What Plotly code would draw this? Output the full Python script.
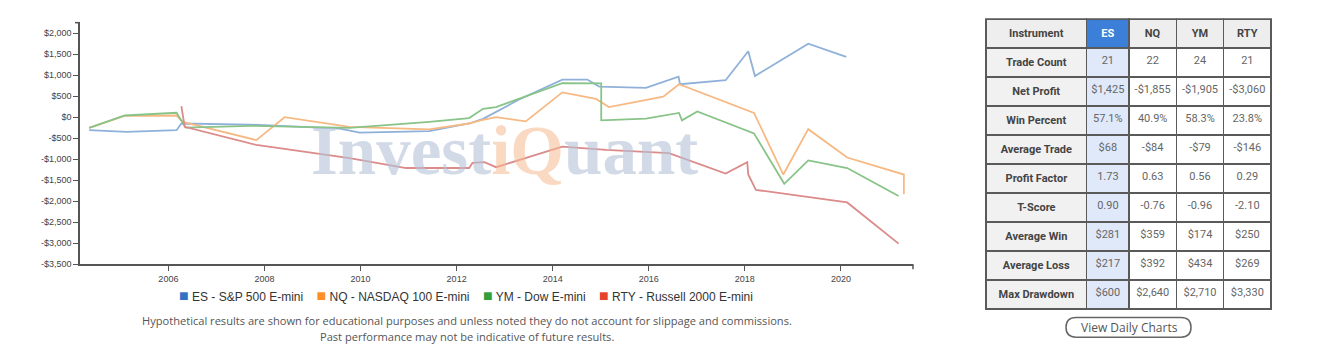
import plotly.graph_objects as go

W, H = 1334, 354

# ---------------- data ----------------
es_years = [2004.35, 2005.13, 2006.17, 2006.27, 2007.7, 2009.57, 2009.98, 2011.43, 2012.26, 2012.55, 2013.3,
            2014.2, 2014.72, 2014.97, 2015.94, 2016.62, 2016.65, 2017.6, 2018.07, 2018.21, 2019.32, 2020.11]
es_vals = [-310, -350, -310, -150, -175, -270, -365, -330, -150, -40, 420,
           895, 895, 730, 700, 965, 785, 880, 1570, 980, 1750, 1435]

nq_years = [2004.35, 2005.09, 2006.17, 2006.3, 2007.83, 2008.42, 2009.77, 2011.43, 2012.26, 2012.5, 2012.82,
            2013.44, 2014.2, 2014.9, 2015.17, 2016.30, 2016.63, 2018.19, 2018.80, 2019.32, 2020.13, 2021.31, 2021.31]
nq_vals = [-255, 30, 40, -110, -545, 0, -230, -290, -150, -75, 0,
           -100, 590, 435, 240, 490, 785, 100, -1365, -285, -960, -1365, -1835]

ym_years = [2004.35, 2005.09, 2006.17, 2006.36, 2007.7, 2009.77, 2011.43, 2012.26, 2012.55, 2012.82, 2014.2,
            2014.75, 2015.01, 2015.01, 2015.94, 2016.63, 2016.69, 2017.01, 2018.19, 2018.82, 2019.32, 2020.13, 2021.2]
ym_vals = [-255, 40, 105, -250, -205, -255, -110, -20, 200, 240, 810,
           805, 805, -75, -35, 100, -75, 135, -385, -1585, -1030, -1210, -1875]

rty_years = [2006.27, 2006.34, 2007.83, 2009.77, 2010.95, 2012.26, 2012.33, 2012.58, 2012.82, 2014.2,
             2015.11, 2016.42, 2017.6, 2018.05, 2018.07, 2018.23, 2020.13, 2021.2]
rty_vals = [260, -230, -660, -975, -1210, -1210, -1090, -1070, -1190, -700,
            -780, -855, -1340, -1070, -1365, -1730, -2030, -3010]

series_names = ["ES - S&P 500 E-mini", "NQ - NASDAQ 100 E-mini", "YM - Dow E-mini", "RTY - Russell 2000 E-mini"]
line_colors = ["#8fb1d9", "#f7b983", "#88c388", "#dc8a8a"]
legend_colors = ["#3272c4", "#ff8f22", "#2f9e3b", "#e4432d"]

y_tick_vals = [2000, 1500, 1000, 500, 0, -500, -1000, -1500, -2000, -2500, -3000, -3500]
y_tick_text = ["$2,000", "$1,500", "$1,000", "$500", "$0", "-$500", "-$1,000", "-$1,500",
               "-$2,000", "-$2,500", "-$3,000", "-$3,500"]
x_tick_vals = [2006, 2008, 2010, 2012, 2014, 2016, 2018, 2020]
x_tick_text = ["2006", "2008", "2010", "2012", "2014", "2016", "2018", "2020"]

table_header = ["Instrument", "ES", "NQ", "YM", "RTY"]
row_labels = ["Trade Count", "Net Profit", "Win Percent", "Average Trade", "Profit Factor",
              "T-Score", "Average Win", "Average Loss", "Max Drawdown"]
es_stats = ["21", "$1,425", "57.1%", "$68", "1.73", "0.90", "$281", "$217", "$600"]
nq_stats = ["22", "-$1,855", "40.9%", "-$84", "0.63", "-0.76", "$359", "$392", "$2,640"]
ym_stats = ["24", "-$1,905", "58.3%", "-$79", "0.56", "-0.96", "$174", "$434", "$2,710"]
rty_stats = ["21", "-$3,060", "23.8%", "-$146", "0.29", "-2.10", "$250", "$269", "$3,330"]

footnote_lines = ["Hypothetical results are shown for educational purposes and unless noted they do not account for slippage and commissions.",
                  "Past performance may not be indicative of future results."]


def px(x):
    return x / W


def py(y):
    return 1 - y / H


fig = go.Figure()

for xs, ys, name, col in zip([es_years, nq_years, ym_years, rty_years],
                             [es_vals, nq_vals, ym_vals, rty_vals],
                             series_names, line_colors):
    fig.add_trace(go.Scatter(x=xs, y=ys, mode="lines", name=name,
                             line=dict(color=col, width=1.8), showlegend=False,
                             xaxis="x", yaxis="y"))

# table
n = len(row_labels)
fig.add_trace(go.Table(
    domain=dict(x=[px(986), px(1271)], y=[py(318), py(19.5)]),
    columnwidth=[100, 42, 47, 47, 47],
    header=dict(
        values=["<b>%s</b>" % h for h in table_header],
        fill_color=["#eeeeee", "#3c7fd8", "#eeeeee", "#eeeeee", "#eeeeee"],
        font=dict(family="Roboto", size=11, color=["#444", "#ffffff", "#444", "#444", "#444"]),
        line=dict(color="#5a5a5a", width=1.5),
        align="center", height=28),
    cells=dict(
        values=[["<b>%s</b>" % r for r in row_labels], es_stats, nq_stats, ym_stats, rty_stats],
        fill_color=[["#f1f1f1"] * n, ["#dfe9fa"] * n, ["#ffffff"] * n, ["#ffffff"] * n, ["#ffffff"] * n],
        font=dict(family="Roboto", size=11, color=["#444", "#666", "#666", "#666", "#666"]),
        line=dict(color="#5a5a5a", width=1.5),
        align="center", height=29),
))

annotations = []
# watermark
annotations.append(dict(
    xref="paper", yref="paper", x=px(504), y=py(153), xanchor="center", yanchor="middle",
    text=('<b><span style="color:rgba(180,196,214,0.62)">Invest</span>'
          '<span style="color:rgba(246,186,146,0.55)">iQ</span>'
          '<span style="color:rgba(180,196,214,0.62)">uant</span></b>'),
    font=dict(family="Liberation Serif", size=69), showarrow=False))

# legend (as text)
leg = "&nbsp;&nbsp;&nbsp;&nbsp;".join('<span style="color:%s;font-size:16px">■</span> %s' % (c, nme)
                                      for c, nme in zip(legend_colors, series_names))
annotations.append(dict(xref="paper", yref="paper", x=px(466), y=py(300), xanchor="center", yanchor="middle",
                        text=leg, font=dict(family="Liberation Sans", size=12, color="#333"), showarrow=False))
for i, line in enumerate(footnote_lines):
    annotations.append(dict(xref="paper", yref="paper", x=px(467), y=py(325 + 16 * i), xanchor="center",
                            yanchor="middle", text=line, font=dict(family="Open Sans", size=11.1, color="#555"),
                            showarrow=False))
# button
annotations.append(dict(xref="paper", yref="paper", x=px(1129), y=py(332), xanchor="center", yanchor="middle",
                        text="View Daily Charts", font=dict(family="Open Sans", size=12, color="#555"),
                        showarrow=False))

bx0, bx1, by0, by1, r = 1066, 1191, 322, 342, 10
path = ("M {a},{b} L {c},{b} Q {d},{b} {d},{e} Q {d},{f} {c},{f} L {a},{f} Q {g},{f} {g},{e} Q {g},{b} {a},{b} Z"
        .format(a=px(bx0 + r), b=py(by0), c=px(bx1 - r), d=px(bx1), e=py((by0 + by1) / 2), f=py(by1), g=px(bx0)))
shapes = [
    dict(type="path", xref="paper", yref="paper", path=path, line=dict(color="#666", width=1.5), fillcolor="rgba(0,0,0,0)"),
    dict(type="line", xref="paper", yref="paper", x0=px(75), x1=px(80), y0=py(23), y1=py(23),
         line=dict(color="#555", width=1.5)),
    dict(type="line", xref="paper", yref="paper", x0=px(913), x1=px(913), y0=py(268), y1=py(273),
         line=dict(color="#555", width=1.5)),
]

fig.update_layout(
    width=W, height=H, margin=dict(l=0, r=0, t=0, b=0),
    paper_bgcolor="white", plot_bgcolor="white",
    xaxis=dict(domain=[px(80), px(913)], range=[2004.16, 2021.5], tickvals=x_tick_vals, ticktext=x_tick_text,
               showgrid=False, zeroline=False, showline=True, linecolor="#555", linewidth=1.5,
               ticks="outside", ticklen=5, tickcolor="#555", tickwidth=1.2,
               tickfont=dict(family="Liberation Sans", size=9, color="#444")),
    yaxis=dict(domain=[py(268), py(23)], range=[-3500, 2250], tickvals=y_tick_vals, ticktext=y_tick_text,
               showgrid=False, zeroline=False, showline=True, linecolor="#555", linewidth=1.5,
               ticks="outside", ticklen=5, tickcolor="#555", tickwidth=1.2,
               tickfont=dict(family="Liberation Sans", size=9, color="#444")),
    annotations=annotations, shapes=shapes,
)

fig.write_html("out.html")
